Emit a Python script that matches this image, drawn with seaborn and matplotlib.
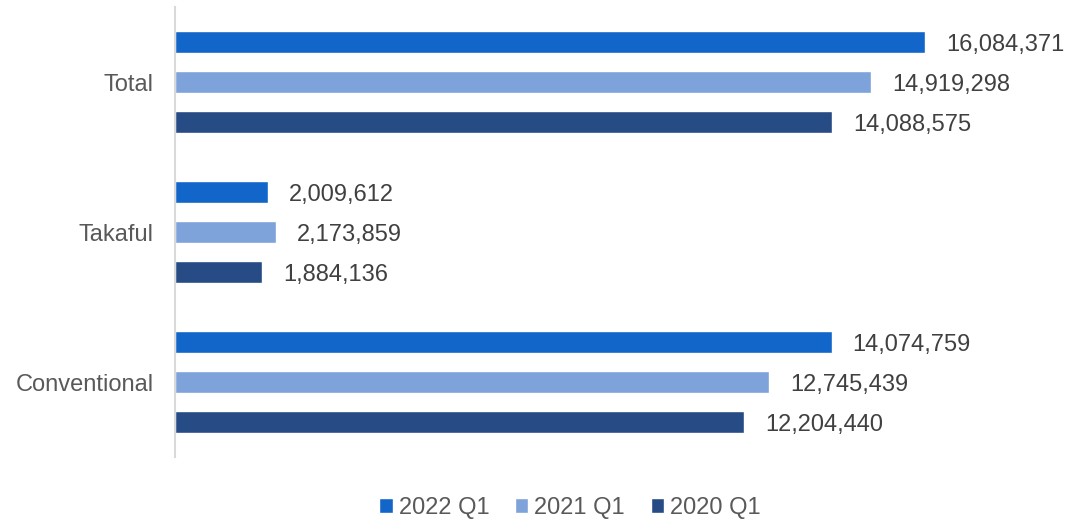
import matplotlib
matplotlib.use("Agg")
import matplotlib.pyplot as plt
import seaborn as sns
import pandas as pd

# Gross written contributions/premiums by segment, first quarter of each year
segments = ["Total", "Takaful", "Conventional"]
periods = ["2022 Q1", "2021 Q1", "2020 Q1"]
values_2022 = [16084371, 2009612, 14074759]
values_2021 = [14919298, 2173859, 12745439]
values_2020 = [14088575, 1884136, 12204440]
colors = ["#1366C9", "#7EA2DA", "#264B85"]

rows = []
for period, vals in zip(periods, [values_2022, values_2021, values_2020]):
    for seg, v in zip(segments, vals):
        rows.append({"segment": seg, "period": period, "value": v})
df = pd.DataFrame(rows)

sns.set_theme(style="white")
plt.rcParams["font.family"] = ["Liberation Sans", "DejaVu Sans"]

FS = 17

fig = plt.figure(figsize=(10.71, 5.24), dpi=100)
W, H = 1071, 524
ax = fig.add_axes([174.5 / W, 67 / H, (W - 174.5) / W, 450 / H])

sns.barplot(
    data=df, y="segment", x="value", hue="period",
    order=segments, hue_order=periods, palette=colors,
    orient="h", width=0.8, gap=0.45, saturation=1,
    errorbar=None, ax=ax, legend=True,
)

ax.set_xlim(0, 19.205e6)
ax.set_ylim(2.5, -0.5)
ax.set_xlabel("")
ax.set_ylabel("")
ax.set_xticks([])

for side in ["top", "right", "bottom"]:
    ax.spines[side].set_visible(False)
ax.spines["left"].set_color("#D9D9D9")
ax.spines["left"].set_linewidth(1.5)

ax.tick_params(axis="y", length=0, pad=15, labelsize=FS, labelcolor="#595959")

for cont in ax.containers:
    texts = ax.bar_label(cont, fmt="{:,.0f}", padding=15, fontsize=FS, color="#404040")
    for t in texts:
        t.set_va("center_baseline")

handles, labels = ax.get_legend_handles_labels()
ax.get_legend().remove()
fig.legend(
    handles, labels, loc="center", bbox_to_anchor=(570 / W, 1 - 508 / H),
    ncol=3, frameon=False, fontsize=FS, labelcolor="#595959",
    handlelength=0.56, handleheight=0.6, handletextpad=0.25,
    columnspacing=1.1, borderaxespad=0,
)

fig.savefig("out.png", dpi=100)
